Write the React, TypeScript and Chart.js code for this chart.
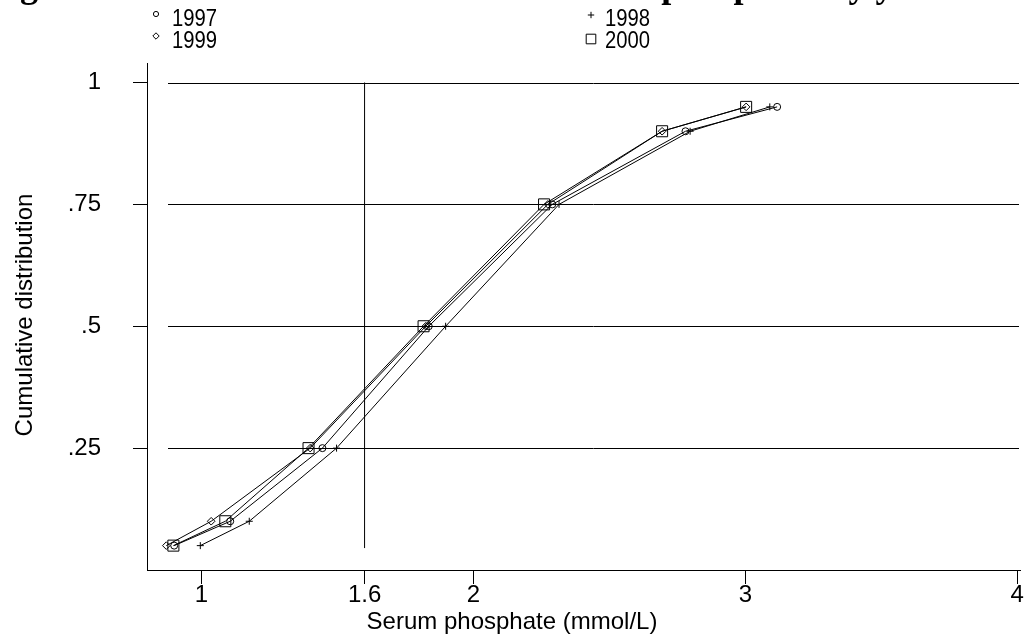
import React, { useEffect, useRef } from 'react';
import { Chart, registerables } from 'chart.js';
import { drawPoint } from 'chart.js/helpers';

Chart.register(...registerables);

// ---- data ----
const percentiles = [0.05, 0.1, 0.25, 0.5, 0.75, 0.9, 0.95];
const years = ['1997', '1998', '1999', '2000'];
const phosphate1997 = [0.9, 1.106, 1.445, 1.836, 2.29, 2.78, 3.117];
const phosphate1998 = [0.996, 1.176, 1.497, 1.898, 2.315, 2.797, 3.09];
const phosphate1999 = [0.871, 1.036, 1.4, 1.825, 2.274, 2.694, 3.003];
const phosphate2000 = [0.897, 1.088, 1.394, 1.817, 2.26, 2.694, 3.003];
const xTickValues = [1, 1.6, 2, 3, 4];
const xTickLabels = ['1', '1.6', '2', '3', '4'];
const yTickValues = [0.25, 0.5, 0.75, 1];
const yTickLabels = ['.25', '.5', '.75', '1'];
const referenceX = 1.6;
const referenceYRange = [0.045, 1];

const titleText = 'Figure 1: Cumulative distribution of serum phosphate by year';
const xAxisTitle = 'Serum phosphate (mmol/L)';
const yAxisTitle = 'Cumulative distribution';

const SANS = "'Liberation Sans', Arial, sans-serif";
const SERIF = "'Liberation Serif', 'Times New Roman', serif";

const seriesValues = [phosphate1997, phosphate1998, phosphate1999, phosphate2000];
const markerStyles: any[] = ['circle', 'cross', 'rectRot', 'rect'];
const markerRadius = [3.5, 3.5, 3.8, 7.8];

const decorPlugin = {
  id: 'stataDecor',
  beforeDatasetsDraw(chart: any) {
    const { ctx, chartArea } = chart;
    const y = chart.scales.y;
    ctx.save();
    ctx.strokeStyle = '#000';
    ctx.lineWidth = 1;
    yTickValues.forEach((v) => {
      const py = Math.round(y.getPixelForValue(v)) + 0.5;
      ctx.beginPath();
      ctx.moveTo(chartArea.left + 21, py);
      ctx.lineTo(chartArea.right - 1, py);
      ctx.stroke();
    });
    ctx.restore();
  },
  afterDraw(chart: any) {
    const { ctx } = chart;
    ctx.save();
    ctx.fillStyle = '#000';
    ctx.strokeStyle = '#000';
    // figure title, clipped by the top edge as in the reference
    ctx.font = `bold 36px ${SERIF}`;
    ctx.textAlign = 'left';
    ctx.textBaseline = 'alphabetic';
    ctx.fillText(titleText, -12, -3);

    // legend (2 x 2)
    const legendItems = [
      { label: years[0], style: 'circle', r: 2.6, mx: 156, my: 14, tx: 172, ty: 20 },
      { label: years[1], style: 'cross', r: 3.2, mx: 591, my: 15, tx: 605, ty: 20 },
      { label: years[2], style: 'rectRot', r: 3.2, mx: 156, my: 36, tx: 172, ty: 42 },
      { label: years[3], style: 'rect', r: 6.8, mx: 591, my: 39, tx: 605, ty: 42 },
    ];
    ctx.font = `23px ${SANS}`;
    ctx.textBaseline = 'middle';
    legendItems.forEach((it) => {
      ctx.lineWidth = 1;
      ctx.fillStyle = 'rgba(0,0,0,0)';
      ctx.strokeStyle = '#000';
      drawPoint(ctx, { pointStyle: it.style as any, radius: it.r, rotation: 0, borderWidth: 1 } as any, it.mx, it.my);
      ctx.fillStyle = '#000';
      ctx.save();
      ctx.translate(it.tx, it.ty);
      ctx.scale(0.88, 1);
      ctx.fillText(it.label, 0, 0);
      ctx.restore();
    });

    // axis titles
    ctx.font = `24px ${SANS}`;
    ctx.textAlign = 'center';
    ctx.textBaseline = 'middle';
    ctx.fillText(xAxisTitle, 512, 622);
    ctx.translate(25, 315);
    ctx.rotate(-Math.PI / 2);
    ctx.fillText(yAxisTitle, 0, 0);
    ctx.restore();
  },
};

export default function App() {
  const canvasRef = useRef<HTMLCanvasElement | null>(null);

  useEffect(() => {
    if (!canvasRef.current) return;
    const datasets: any[] = seriesValues.map((vals, i) => ({
      label: years[i],
      data: vals.map((x, j) => ({ x, y: percentiles[j] })),
      borderColor: '#000',
      borderWidth: 1,
      backgroundColor: 'rgba(0,0,0,0)',
      pointStyle: markerStyles[i],
      pointRadius: markerRadius[i],
      pointBorderColor: '#000',
      pointBackgroundColor: 'rgba(0,0,0,0)',
      pointBorderWidth: 1,
      showLine: true,
      tension: 0,
      fill: false,
    }));
    datasets.push({
      label: 'reference',
      data: referenceYRange.map((y) => ({ x: referenceX, y })),
      borderColor: '#000',
      borderWidth: 1,
      pointRadius: 0,
      showLine: true,
      fill: false,
    });

    const chart = new Chart(canvasRef.current, {
      type: 'scatter',
      data: { datasets },
      plugins: [decorPlugin],
      options: {
        animation: false,
        responsive: false,
        devicePixelRatio: 1,
        layout: { padding: { top: 63, right: 9, left: 0, bottom: 0 } },
        plugins: {
          legend: { display: false },
          tooltip: { enabled: false },
          title: { display: false },
        },
        scales: {
          x: {
            type: 'linear',
            min: 0.8,
            max: 4.01,
            afterBuildTicks: (scale: any) => {
              scale.ticks = xTickValues.map((value) => ({ value }));
            },
            afterFit: (scale: any) => {
              scale.height = 68;
            },
            ticks: {
              autoSkip: false,
              maxRotation: 0,
              padding: -3,
              color: '#000',
              font: { family: SANS, size: 24 },
              callback: (v: any) => xTickLabels[xTickValues.indexOf(Number(v))] ?? '',
            },
            grid: { drawOnChartArea: false, drawTicks: true, tickLength: 14, color: '#000', lineWidth: 1 },
            border: { display: true, color: '#000', width: 1 },
          },
          y: {
            type: 'linear',
            min: 0,
            max: 1.04,
            afterBuildTicks: (scale: any) => {
              scale.ticks = yTickValues.map((value) => ({ value }));
            },
            afterFit: (scale: any) => {
              scale.width = 147;
            },
            ticks: {
              autoSkip: false,
              padding: 32,
              color: '#000',
              font: { family: SANS, size: 24 },
              callback: (v: any) => yTickLabels[yTickValues.indexOf(Number(v))] ?? '',
            },
            grid: { drawOnChartArea: false, drawTicks: true, tickLength: 14, color: '#000', lineWidth: 1 },
            border: { display: true, color: '#000', width: 1 },
          },
        },
      },
    });
    return () => chart.destroy();
  }, []);

  return (
    <div style={{ position: 'absolute', left: 0, top: 0, width: 1029, height: 638, background: '#fff' }}>
      <canvas ref={canvasRef} width={1029} height={638} style={{ display: 'block' }} />
    </div>
  );
}
